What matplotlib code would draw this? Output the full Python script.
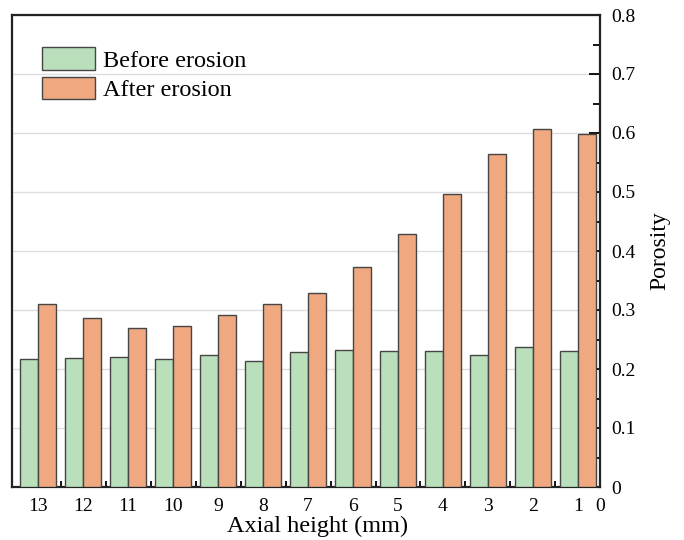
import matplotlib
matplotlib.use("Agg")
import matplotlib.pyplot as plt
import numpy as np
from matplotlib.ticker import FixedLocator, MultipleLocator

plt.rcParams['font.family'] = ['Liberation Serif', 'DejaVu Serif']
plt.rcParams['mathtext.fontset'] = 'stix'

# Axial height categories (top of the bed on the left)
heights = ['13', '12', '11', '10', '9', '8', '7', '6', '5', '4', '3', '2', '1']
before_erosion = [0.217, 0.218, 0.221, 0.217, 0.223, 0.214, 0.228,
                  0.232, 0.231, 0.230, 0.224, 0.237, 0.230]
after_erosion = [0.310, 0.286, 0.270, 0.273, 0.291, 0.310, 0.329,
                 0.373, 0.429, 0.497, 0.564, 0.607, 0.598]
series_labels = ['Before erosion', 'After erosion']
end_label = '0'

green = '#b9dfbb'
orange = '#efa880'
edge = '#454545'

fig = plt.figure(figsize=(6.84, 5.40), dpi=100)
ax = fig.add_axes([12 / 684, (540 - 487) / 540, 588 / 684, 472 / 540])

x = np.arange(len(heights))
w = 0.4
ax.bar(x - w / 2, before_erosion, width=w, color=green, edgecolor=edge,
       linewidth=1.0, label=series_labels[0], zorder=3)
ax.bar(x + w / 2, after_erosion, width=w, color=orange, edgecolor=edge,
       linewidth=1.0, label=series_labels[1], zorder=3)

xmin, xmax = -0.58, 12.49
ax.set_xlim(xmin, xmax)
ax.set_ylim(0, 0.8)

# x axis: categories plus the end label at the right edge
ax.xaxis.set_major_locator(FixedLocator(list(x) + [xmax]))
ax.set_xticklabels(heights + [end_label])
ax.xaxis.set_minor_locator(FixedLocator(list(x[:-1] + 0.5)))
ax.tick_params(axis='x', which='major', direction='in', length=8, width=1.3,
               labelsize=14, pad=8, top=False)
ax.tick_params(axis='x', which='minor', direction='in', length=4, width=1.3,
               top=False)

# y axis on the right
ax.yaxis.tick_right()
ax.yaxis.set_label_position('right')
ax.yaxis.set_minor_locator(MultipleLocator(0.05))
ax.set_yticks(np.arange(0, 0.81, 0.1))
ax.set_yticklabels(['0'] + [f'{v:.1f}' for v in np.arange(0.1, 0.81, 0.1)])
ax.tick_params(axis='y', which='major', direction='in', length=8, width=1.3,
               labelsize=14, pad=8, left=False)
ax.tick_params(axis='y', which='minor', direction='in', length=5, width=1.3,
               left=False)

ax.grid(axis='y', which='major', color='#dddddd', linewidth=1.0, zorder=0)
ax.set_axisbelow(True)

for s in ax.spines.values():
    s.set_linewidth(1.6)
    s.set_color('#222222')

ax.set_xlabel('Axial height (mm)', fontsize=17.5)
ax.xaxis.set_label_coords(0.52, -0.06)
ax.set_ylabel('Porosity', fontsize=17, labelpad=10)

ax.legend(loc='upper left', bbox_to_anchor=(0.051, 0.932), frameon=False,
          fontsize=17.5, handlelength=2.2, handleheight=1.05,
          handletextpad=0.3, labelspacing=0.2, borderpad=0, borderaxespad=0)

fig.savefig('out.png', dpi=100)
